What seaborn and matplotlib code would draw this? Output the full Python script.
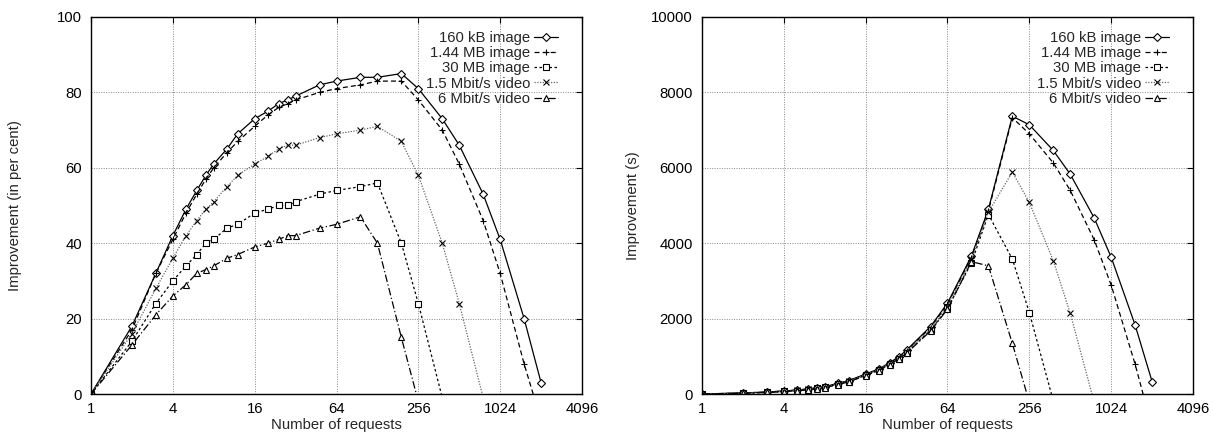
import numpy as np
import pandas as pd
import matplotlib
matplotlib.use("Agg")
import matplotlib.pyplot as plt
import seaborn as sns

# number of requests (x axis, log2)
requests = [1, 2, 3, 4, 5, 6, 7, 8, 10, 12, 16, 20, 24, 28, 32, 48, 64,
            96, 128, 192, 256, 384, 512, 768, 1024, 1536, 2048]

# left panel: improvement in per cent
pct_160kb = [0, 18, 32, 42, 49, 54, 58, 61, 65, 69, 73, 75, 77, 78, 79, 82, 83,
             84, 84, 85, 81, 73, 66, 53, 41, 20, 3]
pct_144mb = [0, 17, 32, 41, 48, 53, 57, 60, 64, 67, 71, 74, 76, 77, 78, 80, 81,
             82, 83, 83, 78, 70, 61, 46, 32, 8, -7]
pct_30mb = [0, 14, 24, 30, 34, 37, 40, 41, 44, 45, 48, 49, 50, 50, 51, 53, 54,
            55, 56, 40, 24, -1]
pct_15video = [0, 16, 28, 36, 42, 46, 49, 51, 55, 58, 61, 63, 65, 66, 66, 68, 69,
               70, 71, 67, 58, 40, 24, -1]
pct_6video = [0, 13, 21, 26, 29, 32, 33, 34, 36, 37, 39, 40, 41, 42, 42, 44, 45,
              47, 40, 15, -2]

# right panel: improvement in seconds
sec_160kb = [0, 27, 53, 80, 106, 133, 168, 195, 283, 354, 531, 664, 830, 985, 1165,
             1790, 2410, 3660, 4900, 7370, 7140, 6460, 5830, 4670, 3630, 1830, 330]
sec_144mb = [0, 26, 52, 78, 104, 130, 164, 190, 276, 345, 520, 652, 815, 968, 1145,
             1760, 2380, 3620, 4860, 7330, 6900, 6130, 5400, 4090, 2890, 790, -890]
sec_30mb = [0, 22, 44, 68, 92, 118, 148, 176, 260, 330, 500, 630, 790, 940, 1100,
            1690, 2270, 3480, 4760, 3580, 2160, -180]
sec_15video = [0, 24, 48, 72, 98, 124, 156, 184, 270, 340, 515, 645, 805, 955, 1120,
               1720, 2320, 3570, 4820, 5890, 5080, 3540, 2140, -220]
sec_6video = [0, 20, 40, 62, 86, 110, 140, 166, 250, 320, 490, 620, 780, 925, 1080,
              1670, 2250, 3510, 3400, 1340, -220]

labels = ["160 kB image", "1.44 MB image", "30 MB image", "1.5 Mbit/s video", "6 Mbit/s video"]
xticks = [1, 4, 16, 64, 256, 1024, 4096]

styles = {
    "160 kB image": dict(color="black", linestyle="-", marker="D", markersize=3.6),
    "1.44 MB image": dict(color="black", linestyle=(0, (4, 2.5)), marker="+", markersize=5),
    "30 MB image": dict(color="black", linestyle=(0, (2, 2)), marker="s", markersize=3.7),
    "1.5 Mbit/s video": dict(color="#666666", linestyle=(0, (1, 1.2)), marker="x", markersize=4,
                             markeredgecolor="black"),
    "6 Mbit/s video": dict(color="black", linestyle=(0, (6, 2, 1, 2)), marker="^", markersize=4),
}

FS = 10.7

sns.set_style("white")
plt.rcParams["font.family"] = ["Liberation Sans", "DejaVu Sans"]
plt.rcParams["font.size"] = FS

fig = plt.figure(figsize=(12.13, 4.36), dpi=100)
ax1 = fig.add_axes([91 / 1213, 42 / 436, 491 / 1213, 377 / 436])
ax2 = fig.add_axes([702 / 1213, 42 / 436, 491 / 1213, 377 / 436])


def draw_panel(ax, series, ylim, yticks, ylabel, ylab_x):
    ax.set_xscale("log", base=2)
    for lab, vals in zip(labels, series):
        kw = dict(styles[lab])
        kw.setdefault("markeredgecolor", kw["color"])
        sns.lineplot(x=requests[:len(vals)], y=vals, ax=ax, label=lab, sort=False,
                     linewidth=0.9, markerfacecolor="white", markeredgewidth=0.8, **kw)
    ax.set_xlim(1, 4096)
    ax.set_ylim(*ylim)
    ax.set_xticks(xticks)
    ax.set_xticklabels([str(t) for t in xticks])
    ax.set_yticks(yticks)
    ax.set_yticklabels([str(t) for t in yticks])
    ax.minorticks_off()
    ax.tick_params(direction="in", length=4, width=0.8, top=True, right=True,
                   labelsize=FS, colors="black")
    ax.tick_params(axis="x", pad=5.5)
    ax.tick_params(axis="y", pad=6.5)
    ax.grid(True, color="#888888", linestyle=(0, (1, 1.5)), linewidth=0.7)
    for sp in ax.spines.values():
        sp.set_color("black")
        sp.set_linewidth(1.0)
    ax.set_xlabel("Number of requests", fontsize=FS, labelpad=2)
    ax.set_ylabel(ylabel, fontsize=FS)
    ax.yaxis.set_label_coords(ylab_x, 0.5)
    ax.legend(loc="upper right", bbox_to_anchor=(0.952, 0.963), frameon=False,
              markerfirst=False, borderpad=0, borderaxespad=0, labelspacing=0.08,
              handlelength=1.65, handletextpad=0.25, fontsize=FS, numpoints=1)


draw_panel(ax1, [pct_160kb, pct_144mb, pct_30mb, pct_15video, pct_6video],
           (0, 100), [0, 20, 40, 60, 80, 100], "Improvement (in per cent)", -0.1405)
draw_panel(ax2, [sec_160kb, sec_144mb, sec_30mb, sec_15video, sec_6video],
           (0, 10000), [0, 2000, 4000, 6000, 8000, 10000], "Improvement (s)", -0.126)

fig.savefig("out.png", dpi=100)
